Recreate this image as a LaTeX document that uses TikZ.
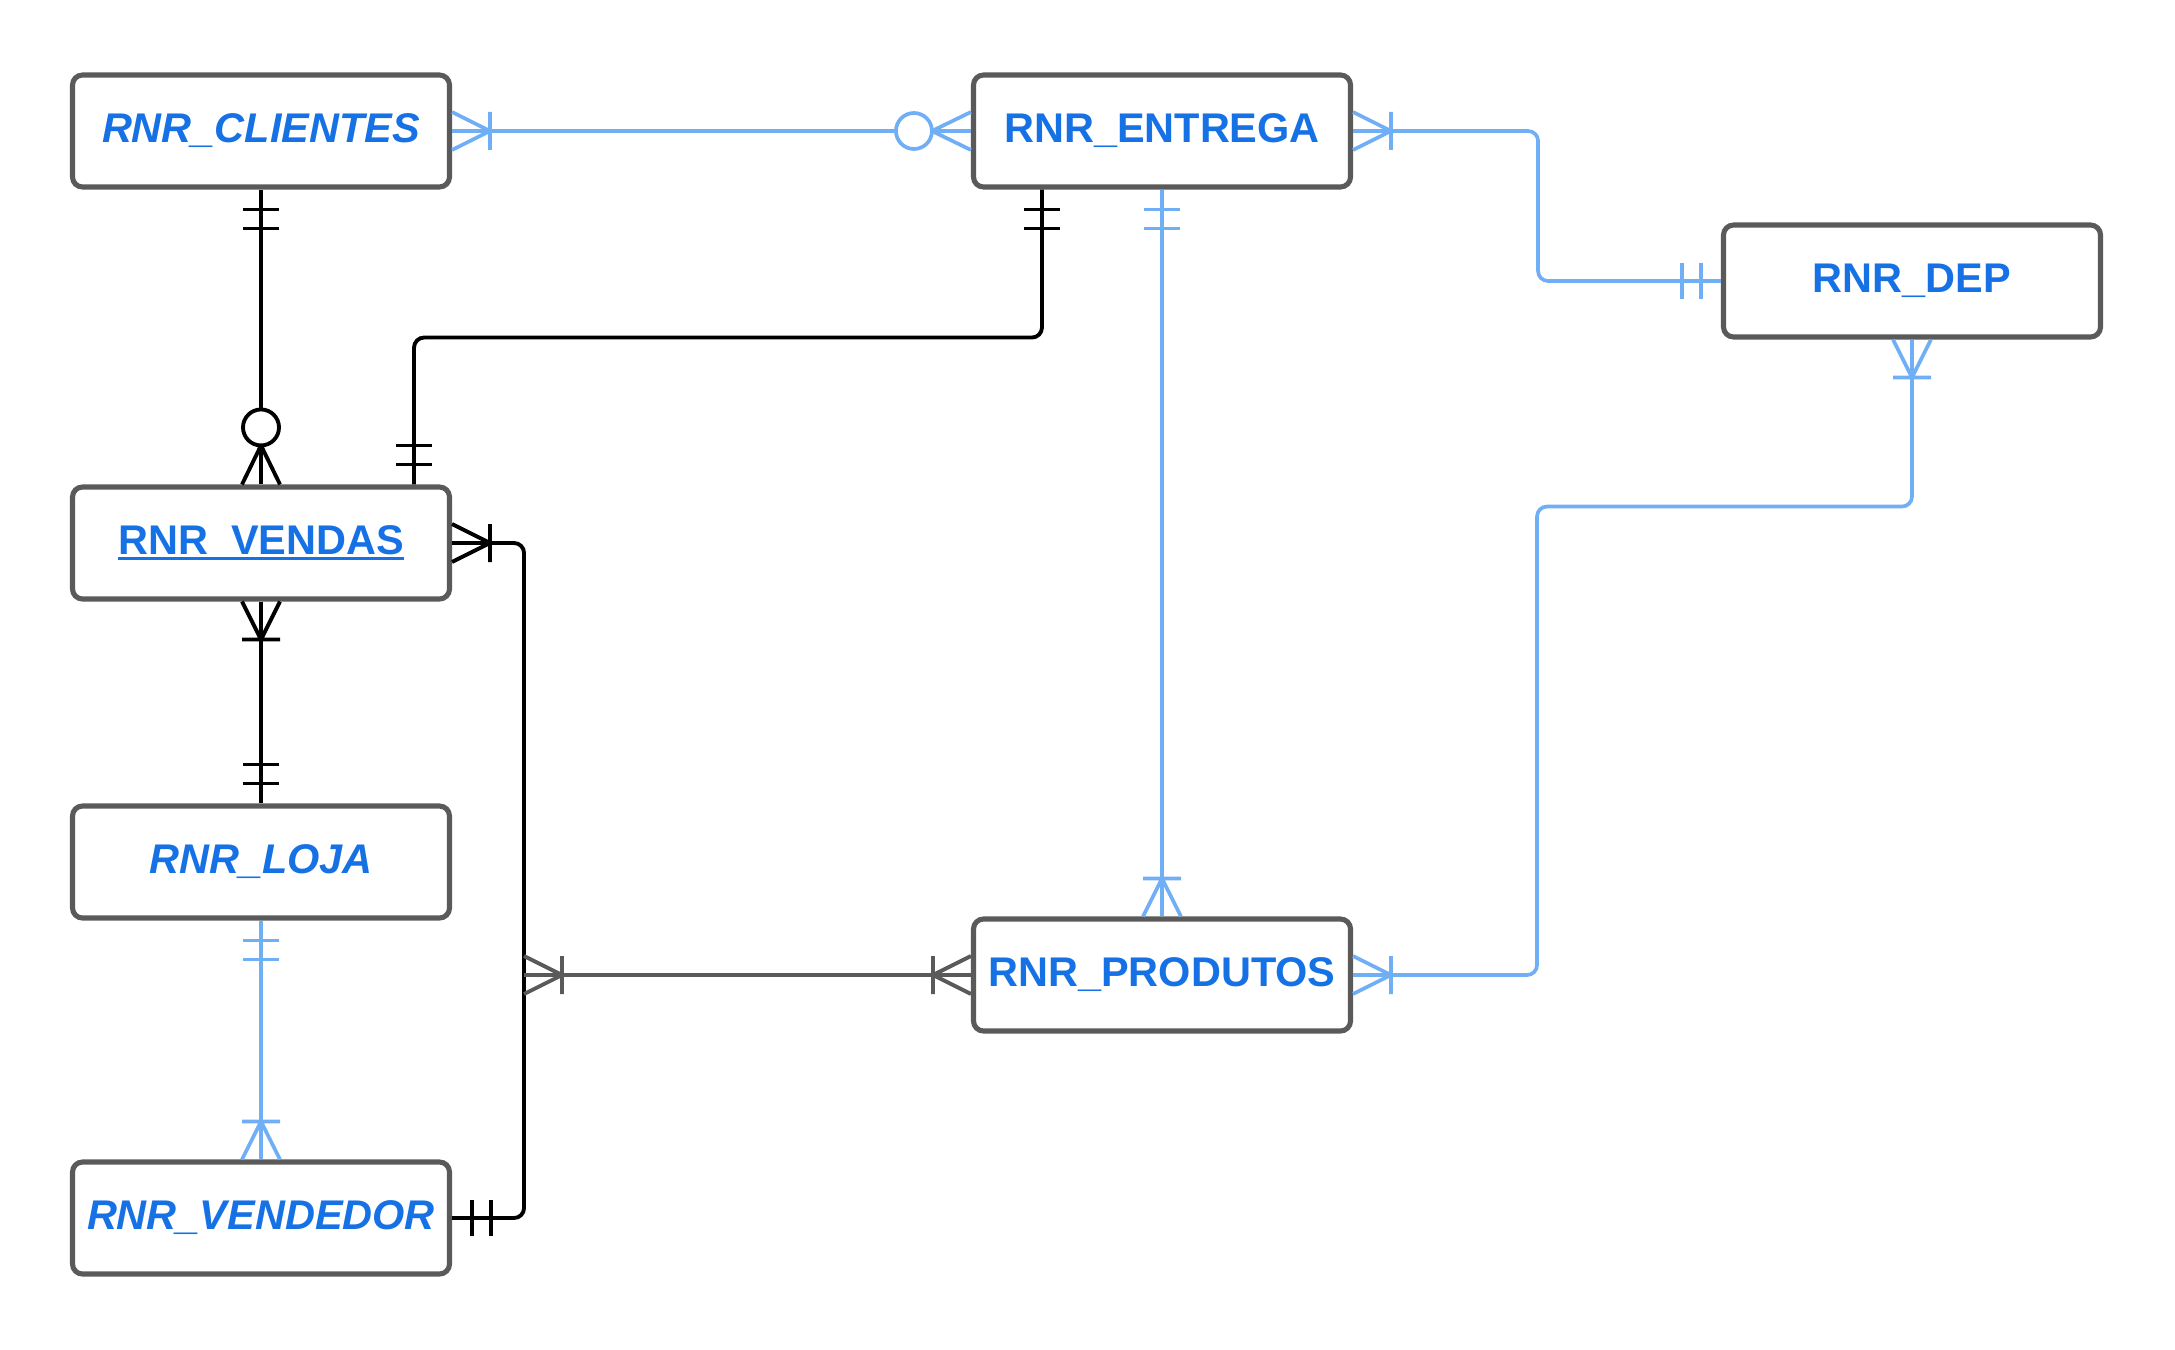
\documentclass[tikz,border=0pt]{standalone}
\usepackage{fontspec}
\setmainfont{Liberation Sans}
\usepackage{tikz}
\usepackage{xcolor}
\definecolor{erblue}{RGB}{22, 114, 228}
\definecolor{erlink}{RGB}{112, 174, 246}
\definecolor{ergray}{RGB}{90, 90, 90}
\newcommand\keyname[1]{\setbox0=\hbox{#1}\rlap{\rule[-0.13em]{\wd0}{0.075em}}\box0}
\tikzset{
    entity/.style={rectangle, draw=ergray, line width=1.45pt, rounded corners=1mm, minimum width=37.7mm, minimum height=11.2mm, inner sep=0pt, text=erblue, font=\fontsize{11.8}{14}\selectfont\bfseries},
    wkentity/.style={entity, font=\fontsize{11.8}{14}\selectfont\bfseries\itshape},
    bluelink/.style={color=erlink, line width=1.05pt},
    blacklink/.style={color=black, line width=1.1pt},
    graylink/.style={color=ergray, line width=1.1pt},
    pics/oneonly/.style={code={\draw (20,-18) -- (20,18) (39,-18) -- (39,18);}},
    pics/onemany/.style={code={\draw (0,-19) -- (38,0) -- (0,19) (38,-19) -- (38,19);}},
    pics/zeromany/.style={code={\draw (0,-19) -- (39,0) -- (0,19); \draw[fill=white] (57,0) circle (18);}}
}

\begin{document}
\begin{tikzpicture}[x=0.1mm, y=-0.1mm]
    \useasboundingbox (0,0) rectangle (2175,1350);
    % entities
    \node[wkentity] (cli) at (261,131) {RNR\_CLIENTES};
    \node[entity] (ent) at (1162,131) {RNR\_ENTREGA};
    \node[entity] (dep) at (1912,281) {RNR\_DEP};
    \node[entity] (ven) at (261,543) {\keyname{RNR\_VENDAS}};
    \node[wkentity] (loj) at (261,862) {RNR\_LOJA};
    \node[wkentity] (vdd) at (261,1218) {RNR\_VENDEDOR};
    \node[entity] (pro) at (1162,975) {RNR\_PRODUTOS};

    \path (ent.south west) ++(71,0) coordinate (entb);
    \path (ven.north east) ++(-38,0) coordinate (vent);
    \path (ven.east) ++(72,0) coordinate (vbus);

    % relationships
    \draw[bluelink] (cli.east) -- (ent.west);
    \draw[blacklink] (cli.south) -- (ven.north);
    \draw[blacklink, rounded corners=1mm] (entb) -- ++(0,148) -| (vent);
    \draw[bluelink, rounded corners=1mm] (ent.east) -- ++(185,0) |- (dep.west);
    \draw[bluelink] (ent.south) -- (pro.north);
    \draw[bluelink, rounded corners=1mm] (dep.south) -- ++(0,167) -- ++(-375,0) |- (pro.east);
    \draw[blacklink, rounded corners=1mm] (ven.east) -- (vbus) |- (vdd.east);
    \draw[blacklink] (ven.south) -- (loj.north);
    \draw[bluelink] (loj.south) -- (vdd.north);
    \draw[graylink] (pro.west) -- (pro.west -| vbus);

    % cardinalities
    \pic[bluelink] at (cli.east) {onemany};
    \pic[bluelink, rotate=180] at (ent.west) {zeromany};
    \pic[blacklink, rotate=-90] at (cli.south) {oneonly};
    \pic[blacklink, rotate=90] at (ven.north) {zeromany};
    \pic[blacklink, rotate=-90] at (entb) {oneonly};
    \pic[blacklink, rotate=90] at (vent) {oneonly};
    \pic[bluelink] at (ent.east) {onemany};
    \pic[bluelink, rotate=180] at (dep.west) {oneonly};
    \pic[bluelink, rotate=-90] at (ent.south) {oneonly};
    \pic[bluelink, rotate=90] at (pro.north) {onemany};
    \pic[bluelink, rotate=-90] at (dep.south) {onemany};
    \pic[bluelink] at (pro.east) {onemany};
    \pic[blacklink] at (ven.east) {onemany};
    \pic[blacklink] at (vdd.east) {oneonly};
    \pic[blacklink, rotate=-90] at (ven.south) {onemany};
    \pic[blacklink, rotate=90] at (loj.north) {oneonly};
    \pic[bluelink, rotate=-90] at (loj.south) {oneonly};
    \pic[bluelink, rotate=90] at (vdd.north) {onemany};
    \pic[graylink] at (pro.west -| vbus) {onemany};
    \pic[graylink, rotate=180] at (pro.west) {onemany};
\end{tikzpicture}
\end{document}
